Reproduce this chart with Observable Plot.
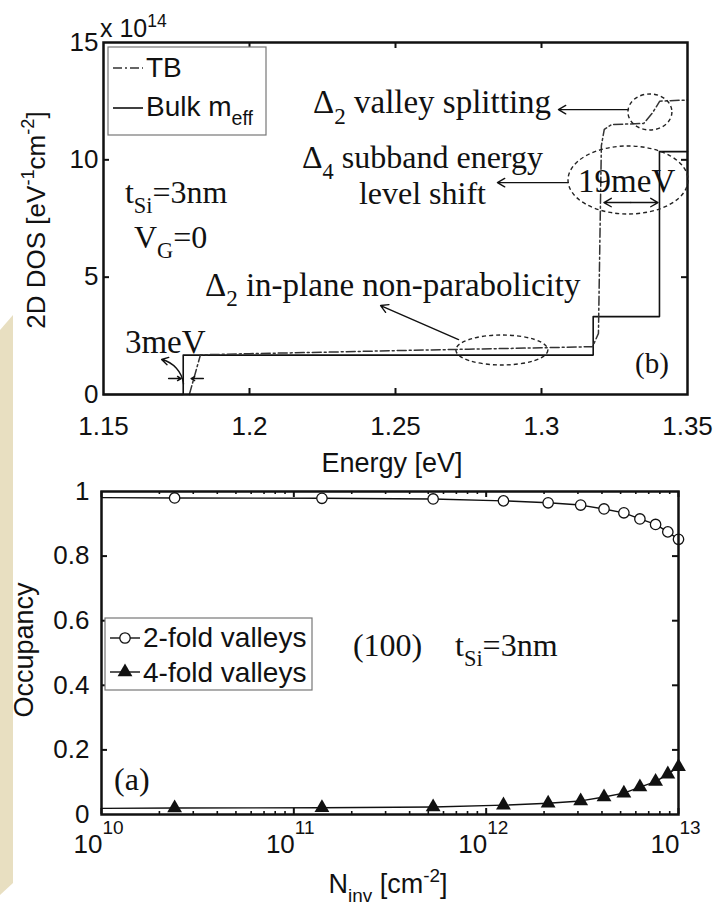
<!DOCTYPE html>
<html><head><meta charset="utf-8">
<script src="https://cdn.jsdelivr.net/npm/d3@7"></script>
<script src="https://cdn.jsdelivr.net/npm/@observablehq/plot@0.6"></script>
<style>
body{margin:0;background:#fff;}
#wrap{position:relative;width:715px;height:910px;overflow:hidden;background:#fff;}
#strip{position:absolute;left:0;top:315px;width:13px;height:580px;background:#e8dfc1;clip-path:polygon(0 15px,100% 0,100% 568px,0 100%);}
#topPanel,#botPanel{position:absolute;left:0;}
#topPanel{top:0}#botPanel{top:480px}
svg{display:block;overflow:visible}
</style></head><body>
<div id="wrap"><div id="strip"></div><div id="topPanel"></div><div id="botPanel"></div></div>
<script>
const SANS = "'Liberation Sans', Arial, Helvetica, sans-serif";
const SERIF = "'Liberation Serif', 'Times New Roman', Times, serif";

// ---------- Panel (b): 2D density of states ----------
const tbEnergy = [1.1794, 1.1832, 1.200, 1.225, 1.250, 1.275, 1.300, 1.3175, 1.3195, 1.3205, 1.3215, 1.3240, 1.3350, 1.3380, 1.3405, 1.3500];
const tbDos    = [0.00,   1.69,   1.74,  1.80,  1.87,  1.93,  1.99,  2.04,   2.60,   10.6,   11.3,   11.5,   11.55,  12.0,   12.5,   12.55];
const bulkEnergy = [1.150, 1.1773, 1.3177, 1.3404, 1.350];
const bulkDos    = [0.00,  1.68,   3.32,   10.35,  10.35];
const energyTicks = [1.15, 1.2, 1.25, 1.3, 1.35];
const dosTicks = [0, 5, 10, 15];

// ---------- Panel (a): occupancy ----------
const nInv     = [2.4e10, 1.4e11, 5.3e11, 1.23e12, 2.1e12, 3.1e12, 4.1e12, 5.2e12, 6.3e12, 7.6e12, 8.8e12, 1.0e13];
const twoFold  = [0.980,  0.979,  0.977,  0.971,   0.965,  0.958,  0.946,  0.934,  0.915,  0.898,  0.875,  0.852];
const fourFold = [0.020,  0.021,  0.023,  0.029,   0.035,  0.042,  0.054,  0.066,  0.085,  0.102,  0.125,  0.148];
const nInvStart = 1e10, twoFoldStart = 0.981, fourFoldStart = 0.019;
const decadeTicks = [1e10, 1e11, 1e12, 1e13];
const decadeExponents = ["10", "11", "12", "13"];
const occTicks = [0, 0.2, 0.4, 0.6, 0.8, 1];
const occTickLabels = ["0", "0.2", "0.4", "0.6", "0.8", "1"];

// rich text helper (sub/superscripts)
function rich(svg, x, y, parts, {size = 32, family = SERIF, anchor = "start", rotate = 0, fill = "#111"} = {}) {
  const t = d3.select(svg).append("text")
    .attr("font-family", family).attr("font-size", size).attr("text-anchor", anchor).attr("fill", fill)
    .attr("transform", `translate(${x},${y})` + (rotate ? ` rotate(${rotate})` : ""));
  let shift = 0;
  for (const p of parts) {
    const [s, mode] = Array.isArray(p) ? p : [p, ""];
    const target = mode === "sub" ? 0.32 * size : mode === "sup" ? -0.42 * size : 0;
    const ts = t.append("tspan").text(s).attr("dy", target - shift);
    if (mode) ts.attr("font-size", size * 0.7);
    shift = target;
  }
  return t;
}

// ================= TOP PANEL =================
const tb = tbEnergy.map((e, i) => ({e, d: tbDos[i]}));
const bulk = bulkEnergy.map((e, i) => ({e, d: bulkDos[i]}));
const ePerPx = 0.2 / 584, dPerPx = 15 / 352;

const arrowsTop = [
  {x1: 1.3298, y1: 12.14, x2: 1.3058, y2: 12.14},
  {x1: 1.3092, y1: 9.03, x2: 1.2849, y2: 9.03},
  {x1: 1.2716, y1: 2.34, x2: 1.2449, y2: 3.79},
  {x1: 1.3306, y1: 8.18, x2: 1.3214, y2: 8.18},
  {x1: 1.3306, y1: 8.18, x2: 1.3399, y2: 8.18},
  {x1: 1.1723, y1: 0.68, x2: 1.1766, y2: 0.68},
  {x1: 1.1842, y1: 0.68, x2: 1.1800, y2: 0.68},
];

const topPlot = Plot.plot({
  width: 715, height: 480, marginTop: 42, marginRight: 28, marginBottom: 86, marginLeft: 103,
  x: {domain: [1.15, 1.35], axis: null},
  y: {domain: [0, 15], axis: null},
  style: {fontFamily: SANS, color: "#111", background: "transparent"},
  marks: [
    Plot.line(bulk, {x: "e", y: "d", curve: "step-after", stroke: "#111", strokeWidth: 1.6}),
    Plot.line(tb, {x: "e", y: "d", stroke: "#333", strokeWidth: 1.5, strokeDasharray: "9,3,2,3"}),
    Plot.ruleX(energyTicks.slice(1, -1), {x: d => d, y1: 0, y2: 6 * dPerPx, stroke: "#111", strokeWidth: 2}),
    Plot.ruleX(energyTicks.slice(1, -1), {x: d => d, y1: 15, y2: 15 - 6 * dPerPx, stroke: "#111", strokeWidth: 2}),
    Plot.ruleY(dosTicks.slice(1, -1), {y: d => d, x1: 1.15, x2: 1.15 + 6 * ePerPx, stroke: "#111", strokeWidth: 2}),
    Plot.ruleY(dosTicks.slice(1, -1), {y: d => d, x1: 1.35, x2: 1.35 - 6 * ePerPx, stroke: "#111", strokeWidth: 2}),
    Plot.text(energyTicks, {x: d => d, y: 0, dy: 32, text: d => String(d), fontSize: 26, fontFamily: SANS}),
    Plot.text(dosTicks, {x: 1.15, y: d => d, dx: -5, textAnchor: "end", text: d => String(d), fontSize: 26, fontFamily: SANS}),
    Plot.arrow(arrowsTop, {x1: "x1", y1: "y1", x2: "x2", y2: "y2", stroke: "#111", strokeWidth: 1.4, headLength: 9}),
    Plot.arrow([{x1: 1.1774, y1: 0.45, x2: 1.1699, y2: 1.49}], {x1: "x1", y1: "y1", x2: "x2", y2: "y2", bend: -35, stroke: "#111", strokeWidth: 1.4, headLength: 8}),
    Plot.frame({stroke: "#111", strokeWidth: 2.5}),
  ]
});
document.getElementById("topPanel").appendChild(topPlot);
{
  const sx = topPlot.scale("x"), sy = topPlot.scale("y");
  const X = v => sx.apply(v), Y = v => sy.apply(v);
  const svg = topPlot;
  const ells = [
    {e: 1.3298, d: 9.12, re: 0.02055, rd: 1.449},
    {e: 1.3373, d: 12.02, re: 0.00753, rd: 0.767},
    {e: 1.2866, d: 1.875, re: 0.01575, rd: 0.639},
  ];
  for (const el of ells) {
    d3.select(svg).append("ellipse")
      .attr("cx", X(el.e)).attr("cy", Y(el.d))
      .attr("rx", X(el.e + el.re) - X(el.e)).attr("ry", Y(el.d) - Y(el.d + el.rd))
      .attr("fill", "none").attr("stroke", "#222").attr("stroke-width", 1.4).attr("stroke-dasharray", "4,3");
  }
  rich(svg, X(1.2219), Y(11.97), ["Δ", ["2", "sub"], " valley splitting"], {size: 33});
  rich(svg, X(1.2594), Y(9.62), ["Δ", ["4", "sub"], " subband energy"], {size: 32, anchor: "middle"});
  rich(svg, X(1.2594), Y(8.10), ["level shift"], {size: 32, anchor: "middle"});
  rich(svg, X(1.1575), Y(8.14), ["t", ["Si", "sub"], "=3nm"], {size: 32});
  rich(svg, X(1.1606), Y(6.22), ["V", ["G", "sub"], "=0"], {size: 32});
  rich(svg, X(1.1849), Y(4.18), ["Δ", ["2", "sub"], " in-plane non-parabolicity"], {size: 33});
  rich(svg, X(1.1575), Y(1.75), ["3meV"], {size: 33});
  rich(svg, X(1.3127), Y(8.61), ["19meV"], {size: 33});
  rich(svg, X(1.3322), Y(0.9), ["(b)"], {size: 29});
  rich(svg, 392, 472, ["Energy [eV]"], {size: 27, family: SANS, anchor: "middle"});
  rich(svg, 45, 220, ["2D DOS [eV", ["-1", "sup"], "cm", ["-2", "sup"], "]"], {size: 26, family: SANS, anchor: "middle", rotate: -90});
  rich(svg, 100, 37, ["x 10", ["14", "sup"]], {size: 25, family: SANS});
  const g = d3.select(svg).append("g");
  g.append("rect").attr("x", 108).attr("y", 47).attr("width", 158).attr("height", 88)
    .attr("fill", "#fff").attr("stroke", "#777").attr("stroke-width", 1.2);
  g.append("line").attr("x1", 113).attr("x2", 143).attr("y1", 68).attr("y2", 68)
    .attr("stroke", "#333").attr("stroke-width", 1.5).attr("stroke-dasharray", "9,3,2,3");
  g.append("line").attr("x1", 113).attr("x2", 143).attr("y1", 108).attr("y2", 108)
    .attr("stroke", "#111").attr("stroke-width", 1.6);
  rich(svg, 146, 77, ["TB"], {size: 28, family: SANS});
  rich(svg, 146, 116, ["Bulk m", ["eff", "sub"]], {size: 28, family: SANS});
}

// ================= BOTTOM PANEL =================
const line2 = [{n: nInvStart, o: twoFoldStart}, ...nInv.map((n, i) => ({n, o: twoFold[i]}))];
const line4 = [{n: nInvStart, o: fourFoldStart}, ...nInv.map((n, i) => ({n, o: fourFold[i]}))];
const pts2 = nInv.map((n, i) => ({n, o: twoFold[i]}));
const pts4 = nInv.map((n, i) => ({n, o: fourFold[i]}));
const logTicks = d3.scaleLog().domain([1e10, 1e13]).ticks();
const minorTicks = logTicks.filter(t => !decadeTicks.some(d => Math.abs(d - t) / d < 1e-9));
const oPerPx = 1 / 322.5, logStep = Math.pow(10, 6 / 192.33);

const botPlot = Plot.plot({
  width: 715, height: 430, marginTop: 11, marginRight: 37, marginBottom: 96, marginLeft: 101,
  x: {type: "log", domain: [1e10, 1e13], axis: null},
  y: {domain: [0, 1], axis: null},
  style: {fontFamily: SANS, color: "#111", background: "transparent"},
  marks: [
    Plot.ruleX(minorTicks, {x: d => d, y1: 0, y2: 3 * oPerPx, stroke: "#111", strokeWidth: 1.6}),
    Plot.ruleX(minorTicks, {x: d => d, y1: 1, y2: 1 - 3 * oPerPx, stroke: "#111", strokeWidth: 1.6}),
    Plot.ruleX(decadeTicks, {x: d => d, y1: 0, y2: 6 * oPerPx, stroke: "#111", strokeWidth: 2}),
    Plot.ruleX(decadeTicks, {x: d => d, y1: 1, y2: 1 - 6 * oPerPx, stroke: "#111", strokeWidth: 2}),
    Plot.ruleY(occTicks.slice(1, -1), {y: d => d, x1: 1e10, x2: 1e10 * logStep, stroke: "#111", strokeWidth: 2}),
    Plot.ruleY(occTicks.slice(1, -1), {y: d => d, x1: 1e13, x2: 1e13 / logStep, stroke: "#111", strokeWidth: 2}),
    Plot.line(line2, {x: "n", y: "o", stroke: "#111", strokeWidth: 1.4}),
    Plot.line(line4, {x: "n", y: "o", stroke: "#111", strokeWidth: 1.4}),
    Plot.dot(pts2, {x: "n", y: "o", r: 5.2, fill: "#fff", stroke: "#111", strokeWidth: 1.3}),
    Plot.dot(pts4, {x: "n", y: "o", r: 5.5, symbol: "triangle", fill: "#111", stroke: "none"}),
    Plot.text(decadeTicks, {x: d => d, y: 0, dy: 30.5, dx: 1, text: () => "10", textAnchor: "end", fontSize: 26, fontFamily: SANS}),
    Plot.text(decadeTicks, {x: d => d, y: 0, dy: 13, dx: 1, text: (d, i) => decadeExponents[i], textAnchor: "start", fontSize: 19, fontFamily: SANS}),
    Plot.text(occTicks, {x: 1e10, y: d => d, dx: -12, textAnchor: "end", text: (d, i) => occTickLabels[i], fontSize: 26, fontFamily: SANS}),
    Plot.frame({stroke: "#111", strokeWidth: 2.5}),
  ]
});
document.getElementById("botPanel").appendChild(botPlot);
{
  const sx = botPlot.scale("x"), sy = botPlot.scale("y");
  const X = v => sx.apply(v), Y = v => sy.apply(v);
  const svg = botPlot;
  rich(svg, X(2.04e11), Y(0.49), ["(100)"], {size: 32});
  rich(svg, X(6.93e11), Y(0.49), ["t", ["Si", "sub"], "=3nm"], {size: 32});
  rich(svg, X(1.17e10), Y(0.073), ["(a)"], {size: 32});
  rich(svg, 33, 170, ["Occupancy"], {size: 27, family: SANS, anchor: "middle", rotate: -90});
  rich(svg, 388, 413, ["N", ["inv", "sub"], " [cm", ["-2", "sup"], "]"], {size: 27, family: SANS, anchor: "middle"});
  const g = d3.select(svg).append("g");
  g.append("rect").attr("x", 105).attr("y", 138).attr("width", 207).attr("height", 72)
    .attr("fill", "#fff").attr("stroke", "#777").attr("stroke-width", 1.2);
  g.append("line").attr("x1", 110).attr("x2", 140).attr("y1", 158).attr("y2", 158).attr("stroke", "#111").attr("stroke-width", 1.4);
  g.append("circle").attr("cx", 125).attr("cy", 158).attr("r", 5.2).attr("fill", "#fff").attr("stroke", "#111").attr("stroke-width", 1.3);
  g.append("line").attr("x1", 110).attr("x2", 140).attr("y1", 192).attr("y2", 192).attr("stroke", "#111").attr("stroke-width", 1.4);
  g.append("path").attr("transform", "translate(125,192)").attr("d", d3.symbol(d3.symbolTriangle, Math.PI * 5.5 * 5.5)()).attr("fill", "#111");
  rich(svg, 143, 167, ["2-fold valleys"], {size: 28, family: SANS});
  rich(svg, 143, 202, ["4-fold valleys"], {size: 28, family: SANS});
}
</script></body></html>
